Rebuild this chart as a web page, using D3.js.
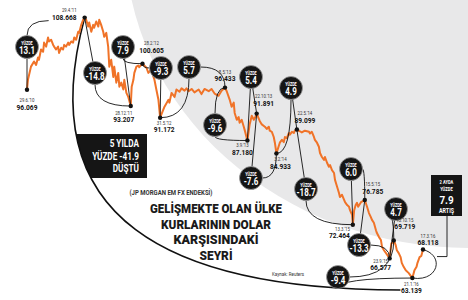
<!DOCTYPE html>
<html>
<head>
<meta charset="utf-8">
<script src="https://cdn.jsdelivr.net/npm/d3@7"></script>
<style>
  body { margin: 0; background: #fff; }
  svg { display: block; }
</style>
</head>
<body>
<script>
// JP Morgan EM FX index
var seriesDates = [
  "2010-06-29","2010-07-04","2010-07-20","2010-08-05","2010-08-16","2010-08-26","2010-08-31","2010-09-11","2010-09-22","2010-09-27",
  "2010-10-08","2010-10-18","2010-10-23","2010-11-03","2010-11-14","2010-11-19","2010-11-29","2010-12-10","2010-12-15","2010-12-26",
  "2011-01-05","2011-01-11","2011-01-21","2011-02-01","2011-02-06","2011-02-17","2011-02-27","2011-03-05","2011-03-15","2011-03-26",
  "2011-03-31","2011-04-11","2011-04-21","2011-04-29","2011-05-07","2011-05-18","2011-05-23","2011-06-03","2011-06-13","2011-06-18",
  "2011-06-29","2011-07-10","2011-07-15","2011-07-25","2011-08-05","2011-08-10","2011-08-21","2011-08-31","2011-09-06","2011-09-16",
  "2011-09-27","2011-10-02","2011-10-13","2011-10-23","2011-10-29","2011-11-08","2011-11-19","2011-11-24","2011-12-05","2011-12-15",
  "2011-12-28","2012-01-02","2012-01-11","2012-01-16","2012-01-27","2012-02-06","2012-02-11","2012-02-22","2012-02-28","2012-03-20",
  "2012-03-30","2012-04-15","2012-04-26","2012-05-01","2012-05-11","2012-05-22","2012-05-31","2012-06-23","2012-07-14","2012-07-19",
  "2012-07-30","2012-08-15","2012-08-25","2012-09-10","2012-09-21","2012-10-07","2012-10-17","2012-10-28","2012-11-13","2012-11-28",
  "2012-12-20","2013-01-04","2013-01-20","2013-02-11","2013-02-26","2013-03-14","2013-04-04","2013-04-20","2013-05-08","2013-05-17",
  "2013-06-02","2013-06-12","2013-06-23","2013-06-28","2013-07-09","2013-07-19","2013-07-24","2013-08-04","2013-08-15","2013-08-20",
  "2013-09-03","2013-09-15","2013-09-26","2013-10-07","2013-10-15","2013-10-22","2013-11-07","2013-11-18","2013-12-04","2013-12-14",
  "2013-12-25","2013-12-30","2014-01-10","2014-01-20","2014-01-26","2014-02-03","2014-02-21","2014-03-04","2014-03-14","2014-03-20",
  "2014-03-30","2014-04-10","2014-04-15","2014-04-26","2014-05-06","2014-05-11","2014-05-22","2014-06-07","2014-06-17","2014-07-03",
  "2014-07-25","2014-07-30","2014-08-09","2014-08-20","2014-08-25","2014-09-05","2014-09-15","2014-09-21","2014-10-01","2014-10-12",
  "2014-10-17","2014-10-28","2014-11-07","2014-11-13","2014-11-23","2014-12-04","2014-12-09","2014-12-20","2014-12-30","2015-01-04",
  "2015-01-15","2015-01-26","2015-01-31","2015-02-11","2015-02-21","2015-02-26","2015-03-09","2015-03-13","2015-03-20","2015-03-28",
  "2015-04-04","2015-04-10","2015-04-25","2015-05-05","2015-05-15","2015-05-27","2015-06-06","2015-06-16","2015-06-22","2015-07-02",
  "2015-07-13","2015-07-18","2015-07-29","2015-08-08","2015-08-14","2015-08-24","2015-09-04","2015-09-23","2015-10-02","2015-10-08",
  "2015-10-15","2015-10-25","2015-10-31","2015-11-10","2015-11-20","2015-11-26","2015-12-06","2015-12-17","2016-01-02","2016-01-21",
  "2016-02-01","2016-02-12","2016-02-17","2016-02-28","2016-03-08","2016-03-17"
]
var seriesValues = [
  96.069,97.8,100.1,101.0,100.4,101.7,101.3,103.1,102.7,104.3,
  103.6,105.2,104.5,104.8,103.9,103.6,103.1,103.6,102.5,103.4,
  103.1,103.9,103.6,104.3,103.9,104.5,104.3,105.2,104.8,106.2,
  106.0,107.4,108.3,108.668,108.3,107.1,107.8,106.2,107.4,106.9,
  108.0,107.1,108.3,107.4,106.2,105.3,106.0,103.6,100.1,101.3,
  98.3,100.1,97.3,99.0,96.6,97.3,96.1,97.8,95.5,94.8,
  93.207,96.6,97.8,99.0,100.1,100.3,100.0,100.4,100.605,99.9,
  99.0,99.6,98.3,97.8,96.1,94.3,91.172,93.1,94.3,93.8,
  95.5,94.8,96.1,95.7,96.3,95.9,96.3,95.8,96.2,95.6,
  96.1,95.3,96.2,95.8,96.2,95.4,95.0,95.9,96.433,95.8,
  94.3,93.1,93.8,92.0,90.8,91.3,90.3,90.8,89.6,89.0,
  87.180,90.0,91.5,90.8,91.3,91.891,90.6,90.0,89.6,89.2,
  89.6,88.9,88.7,87.8,86.8,84.933,86.8,87.3,86.9,87.8,
  87.6,88.5,88.2,88.7,88.5,88.9,89.099,88.8,88.6,88.9,
  88.7,88.4,88.7,87.8,87.3,86.8,86.1,85.0,84.3,83.8,
  84.3,83.3,82.6,82.9,82.0,81.5,80.3,79.1,78.0,77.3,
  77.7,76.8,76.4,75.9,75.6,75.0,74.2,72.464,75.0,75.9,
  76.3,75.6,76.4,76.6,76.785,75.6,74.5,73.8,73.3,72.8,
  71.5,71.0,70.3,69.8,68.6,68.0,67.5,66.577,69.2,69.3,
  69.719,68.9,68.0,67.5,66.8,65.8,65.1,64.5,64.0,63.139,
  64.5,65.1,65.8,66.8,67.0,68.118
]

// labelled turning points
var keyDates = ["2010-06-29","2011-04-29","2011-12-28","2012-02-28","2012-05-31","2013-05-08","2013-09-03","2013-10-22",
                "2014-02-03","2014-05-22","2015-03-13","2015-05-15","2015-09-23","2015-10-15","2016-01-21","2016-03-17"]
var keyValues = [96.069,108.668,93.207,100.605,91.172,96.433,87.180,91.891,84.933,89.099,72.464,76.785,66.577,69.719,63.139,68.118]
var keyDateText = ["29.6.'10","29.4.'11","28.12.'11","28.2.'12","31.5.'12","8.5.'13","3.9.'13","22.10.'13",
                   "3.2.'14","22.5.'14","13.3.'15","15.5.'15","23.9.'15","15.10.'15","21.1.'16","17.3.'16"]
var keyValueText = ["96.069","108.668","93.207","100.605","91.172","96.433","87.180","91.891",
                    "84.933","89.099","72.464","76.785","66.577","69.719","63.139","68.118"]

// percent moves between turning points
var moveFrom = [0,1,2,3,4,5,6,7,8,9,10,11,12,13]
var moveTo   = [1,2,3,4,5,6,7,8,9,10,11,12,13,14]
var moveText = ["13.1","-14.8","7.9","-9.3","5.7","-9.6","5.4","-7.6","4.9","-18.7","6.0","-13.3","4.7","-9.4"]

var bigDropText = ["5 YILDA", "YÜZDE -41.9", "DÜŞTÜ"]
var lastRiseText = ["2 AYDA", "YÜZDE", "7.9", "ARTIŞ"]
var titleLines = ["GELİŞMEKTE OLAN ÜLKE", "KURLARININ DOLAR", "KARŞISINDAKİ", "SEYRİ"]

// layout of the annotations
var labelPos = [ // anchor, dx, dy date, dy value
  ["middle",0,12,20], ["end",-8,-6,2], ["middle",-7,9,16], ["middle",9,-19,-11],
  ["middle",4,7,14], ["middle",0,-14,-7], ["middle",-5,6,14], ["middle",7,-16,-8],
  ["middle",4,8,16], ["middle",8,-15,-7], ["end",-3,6,13], ["middle",8,-14,-6],
  ["middle",-9,5,12], ["middle",11,-18,-11], ["middle",-1,8,15], ["middle",5,-12,-5]
]
var bubblePos = [[27,47],[95,73],[123,47],[161,68],[189,67],[215,125],[251,77],[251,178],
                 [291,88],[306,189],[351,169],[359,245],[396,209],[338,277]]
var legStyle = [["s","v"],["s","v"],["s","v"],["h","s"],["v","h"],["v","v"],["s","s"],["s","h"],
                ["v","s"],["s","v"],["s","h"],["s","h"],["s","h"],["h","v"]]

var W = 468, H = 300
var parse = d3.timeParse("%Y-%m-%d")
var series = seriesDates.map((d, i) => ({date: parse(d), value: seriesValues[i]}))
var keys = keyDates.map((d, i) => ({date: parse(d), value: keyValues[i]}))

var x = d3.scaleTime().domain([parse("2010-06-29"), parse("2016-03-17")]).range([27, 423])
var y = d3.scaleLinear().domain([60, 110]).range([296, 10])

var svg = d3.select("body").append("svg")
    .attr("width", W)
    .attr("height", H)

var cond = "'Roboto', 'Liberation Sans', sans-serif"

// background
svg.append("rect").attr("width", W).attr("height", H).attr("fill", "#fff")
svg.append("ellipse")
    .attr("cx", 470).attr("cy", -60).attr("rx", 345).attr("ry", 308)
    .attr("fill", "#e8e8e9")

// condensed text helper
function ctext(g, tx, ty, txt, size, opt) {
  opt = opt || {}
  return g.append("text")
      .attr("transform", "translate(" + tx + "," + ty + ") scale(" + (opt.sx || 0.82) + ",1)")
      .attr("text-anchor", opt.anchor || "middle")
      .attr("font-family", cond)
      .attr("font-weight", opt.weight || "bold")
      .attr("font-size", size)
      .attr("fill", opt.fill || "#111")
      .text(txt)
}

var px = d => [x(d.date), y(d.value)]

// big 5-year arc, from the peak down to the last low
var peak = px(keys[1]), low = px(keys[14])
var arcPath = "M" + peak + " C30,220 170,290 " + (low[0] - 12) + "," + (low[1] + 12)

svg.append("clipPath").attr("id", "rightOfArc")
  .append("path")
    .attr("d", arcPath + " L" + W + "," + (low[1] + 12) + " L" + W + ",0 L" + peak[0] + ",0 Z")

svg.append("rect")
    .attr("x", 55).attr("y", 134).attr("width", 92).attr("height", 44)
    .attr("fill", "#151515")
    .attr("clip-path", "url(#rightOfArc)")

svg.append("path")
    .attr("d", arcPath)
    .attr("fill", "none")
    .attr("stroke", "#111")
    .attr("stroke-width", 1.6)

bigDropText.forEach((t, i) => {
  ctext(svg, 139, 147 + i * 12.5, t, 10.5, {anchor: "end", fill: "#fff", sx: 0.78})
})

// the series line
var line = d3.line()
    .x(d => x(d.date))
    .y(d => y(d.value))

svg.append("path")
    .datum(series)
    .attr("fill", "none")
    .attr("stroke", "#f07328")
    .attr("stroke-width", 2)
    .attr("stroke-linejoin", "round")
    .attr("d", line)

// leader lines from bubbles
var leaders = svg.append("g")
    .attr("fill", "none")
    .attr("stroke", "#111")
    .attr("stroke-width", 0.9)

var R = 11.5
function leg(c, t, style, shift) {
  if (shift) t = [t[0] + shift[0], t[1] + shift[1]]
  var ctl = style == "v" ? [c[0], t[1]] : style == "h" ? [t[0], c[1]] : t
  var dx = ctl[0] - c[0], dy = ctl[1] - c[1]
  var len = Math.sqrt(dx * dx + dy * dy) || 1
  var s = [c[0] + dx / len * R, c[1] + dy / len * R]
  if (style == "s") return "M" + s + "L" + t
  return "M" + s + "Q" + ctl + " " + t
}

moveText.forEach((m, i) => {
  var c = bubblePos[i]
  var a = px(keys[moveFrom[i]]), b = px(keys[moveTo[i]])
  leaders.append("path").attr("d", leg(c, a, legStyle[i][0]))
  leaders.append("path").attr("d", leg(c, b, legStyle[i][1], i == 0 ? [-36, 3] : null))
})

// last two months: bracket + box
var last = px(keys[15])
leaders.append("path")
    .attr("d", "M" + last + " C" + (last[0] + 22) + "," + (last[1] + 6) + " " + (low[0] + 26) + "," + (low[1] + 4) + " " + low)
leaders.append("path")
    .attr("d", "M447,216 L447," + (last[1] + 7) + " L" + (last[0] + 14) + "," + (last[1] + 7))

svg.append("rect")
    .attr("x", 431).attr("y", 175).attr("width", 31).attr("height", 41)
    .attr("fill", "#151515")
ctext(svg, 446.5, 183.5, lastRiseText[0], 5, {fill: "#fff"})
ctext(svg, 446.5, 191, lastRiseText[1], 5, {fill: "#fff"})
ctext(svg, 446.5, 203.5, lastRiseText[2], 11, {fill: "#fff", sx: 0.9})
ctext(svg, 446.5, 212.5, lastRiseText[3], 6.5, {fill: "#fff"})

// bubbles
var bub = svg.append("g")
moveText.forEach((m, i) => {
  var c = bubblePos[i]
  bub.append("circle")
      .attr("cx", c[0]).attr("cy", c[1]).attr("r", R)
      .attr("fill", "#151515")
      .attr("stroke", "#9a9a9a")
      .attr("stroke-width", 0.8)
  ctext(bub, c[0], c[1] - 2.5, "YÜZDE", 4.6, {fill: "#fff"})
  ctext(bub, c[0], c[1] + 7, m, 10, {fill: "#fff", sx: 0.8})
})

// turning point dots and labels
svg.append("g").selectAll("circle")
  .data(keys)
  .join("circle")
    .attr("cx", d => x(d.date))
    .attr("cy", d => y(d.value))
    .attr("r", 2.2)
    .attr("fill", "#111")

keys.forEach((d, i) => {
  var p = px(d), L = labelPos[i]
  ctext(svg, p[0] + L[1], p[1] + L[2], keyDateText[i], 4.8, {anchor: L[0], weight: "normal", fill: "#333", sx: 0.9})
  ctext(svg, p[0] + L[1], p[1] + L[3], keyValueText[i], 7.2, {anchor: L[0], fill: "#111", sx: 0.92})
})

// titles
ctext(svg, 171, 195, "(JP MORGAN EM FX ENDEKSİ)", 7, {fill: "#333", sx: 0.86})
var titleW = [132, 110, 85, 33]
titleLines.forEach((t, i) => {
  svg.append("text")
      .attr("x", 216).attr("y", 213 + i * 15.5)
      .attr("text-anchor", "middle")
      .attr("font-family", cond)
      .attr("font-weight", 900)
      .attr("font-size", 13.5)
      .attr("fill", "#1a1a1a")
      .attr("textLength", titleW[i])
      .attr("lengthAdjust", "spacingAndGlyphs")
      .text(t)
})
ctext(svg, 272, 276, "Kaynak: Reuters", 5, {anchor: "start", weight: "normal", fill: "#333", sx: 0.9})
</script>
</body>
</html>
